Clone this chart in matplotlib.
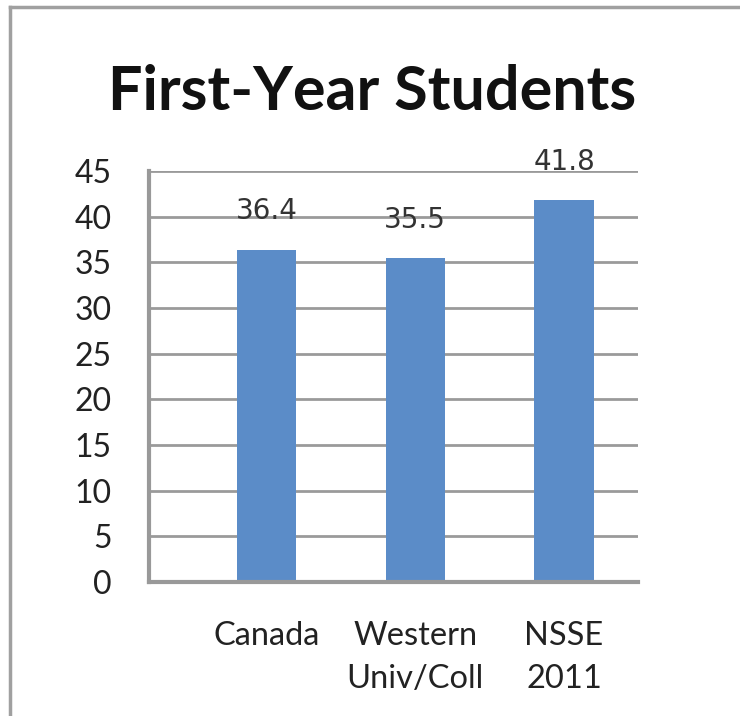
import matplotlib
matplotlib.use("Agg")
import matplotlib.pyplot as plt
from matplotlib.lines import Line2D

categories = ["Canada", "Western\nUniv/Coll", "NSSE\n2011"]
values = [36.4, 35.5, 41.8]
yticks = [0, 5, 10, 15, 20, 25, 30, 35, 40, 45]
title = "First-Year Students"

fig = plt.figure(figsize=(7.4, 7.16), dpi=100)
fig.patch.set_facecolor("white")
ax = fig.add_axes([149/740, 1 - 582/716, (638 - 149)/740, (582 - 171)/716])

x = list(range(len(categories)))
bars = ax.bar(x, values, width=0.40, color="#5B8CC8", zorder=3)

ax.set_ylim(0, 45)
ax.set_xlim(-0.79, 2.497)
ax.set_yticks(yticks)
ax.set_yticklabels([str(v) for v in yticks], family="Lato", fontsize=23, color="#222222")
ax.set_xticks(x)
ax.set_xticklabels(categories, family="Lato", fontsize=23.5, color="#222222", linespacing=1.55)
ax.tick_params(axis="y", length=0, pad=27)
ax.tick_params(axis="x", length=0, pad=28)

ax.grid(axis="y", color="#9a9a9a", linewidth=2, zorder=0)
for s in ["top", "right"]:
    ax.spines[s].set_visible(False)
for s in ["left", "bottom"]:
    ax.spines[s].set_color("#999999")
    ax.spines[s].set_linewidth(3)
    ax.spines[s].set_zorder(4)

for xi, v in zip(x, values):
    ax.annotate(f"{v}", xy=(xi, v), xytext=(0, 27.5), textcoords="offset points",
                ha="center", va="center", family="DejaVu Sans", fontsize=20,
                color="#333333", zorder=5)

fig.text(372/740, 1 - 110/716, title, ha="center", va="baseline",
         family="Lato", fontweight="bold", fontsize=44, color="#111111")

fig.add_artist(Line2D([10/740, 10/740], [0, 1 - 7/716], transform=fig.transFigure,
                      color="#a0a0a0", linewidth=2.5))
fig.add_artist(Line2D([10/740, 1], [1 - 7/716, 1 - 7/716], transform=fig.transFigure,
                      color="#a0a0a0", linewidth=2.5))

fig.savefig("out.png", dpi=100, facecolor="white")
